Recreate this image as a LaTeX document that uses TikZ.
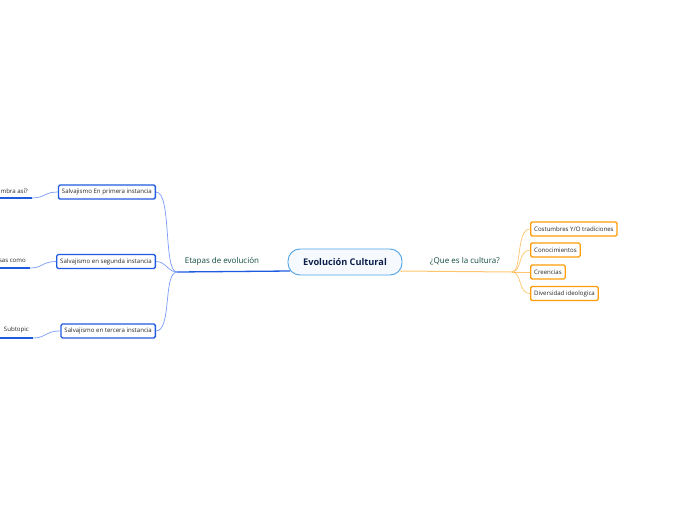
\documentclass[tikz,border=0pt]{standalone}
\usepackage{fontspec}
\setmainfont{Open Sans}
\definecolor{centerline}{HTML}{4DA3E6}
\definecolor{centerfill}{HTML}{F6FAFE}
\definecolor{centertext}{HTML}{0B1F4A}
\definecolor{branchtext}{HTML}{0E4A3C}
\definecolor{blueline}{HTML}{7A9BFA}
\definecolor{bluebox}{HTML}{1F5BE0}
\definecolor{orangeline}{HTML}{FFC46E}
\definecolor{orangebox}{HTML}{FF9C0A}

\begin{document}
\begin{tikzpicture}[x=1pt, y=-1pt,
    central/.style={draw=centerline, fill=centerfill, line width=0.9pt, rounded corners=12pt,
        minimum width=114pt, minimum height=26pt, inner sep=0pt, text=centertext,
        font=\fontsize{9.2}{11}\selectfont\bfseries},
    branch/.style={inner sep=0pt, text=branchtext, font=\fontsize{8}{10}\selectfont},
    bluetopic/.style={draw=bluebox, fill=white, line width=1.3pt, rounded corners=1.5pt,
        minimum height=14pt, inner xsep=3.5pt, inner ysep=0pt, text=black!85,
        font=\fontsize{6.1}{7}\selectfont},
    orangetopic/.style={bluetopic, draw=orangebox},
    leaf/.style={inner sep=0pt, text=black!85, font=\fontsize{6.1}{7}\selectfont},
    bline/.style={draw=blueline, line width=0.7pt},
    oline/.style={draw=orangeline, line width=0.7pt},
    uline/.style={draw=bluebox, line width=1.3pt}]
    \useasboundingbox (0,0) rectangle (696,520);

    \node[central] (evo) at (345,262) {Evolución Cultural};
    \coordinate (evoin) at (290,271);
    \coordinate (evoout) at (400,271);

    \node[branch] (etapas) at (222,261) {Etapas de evolución};
    \coordinate (ej) at (177,272);
    \node[branch] (cultura) at (465,261) {¿Que es la cultura?};
    \coordinate (qj) at (512,272);

    \node[bluetopic, anchor=east] (s1) at (156,192) {Salvajismo En primera instancia};
    \node[bluetopic, anchor=east] (s2) at (156,261.5) {Salvajismo en segunda instancia};
    \node[bluetopic, anchor=east] (s3) at (156,331) {Salvajismo en tercera instancia};

    \node[orangetopic, anchor=west] (c1) at (530,229) {Costumbres Y/O tradiciones};
    \node[orangetopic, anchor=west] (c2) at (530,250) {Conocimientos};
    \node[orangetopic, anchor=west] (c3) at (530,272) {Creencias};
    \node[orangetopic, anchor=west] (c4) at (530,293.5) {Diversidad ideologica};

    \node[leaf, anchor=east] (l1) at (28,191) {mbra así?};
    \node[leaf, anchor=east] (l2) at (26,261) {sas como};
    \node[leaf, anchor=east] (l3) at (29,329.5) {Subtopic};
    \coordinate (u1a) at (-2,198);
    \coordinate (u1b) at (32,198);
    \coordinate (u2a) at (-2,268);
    \coordinate (u2b) at (30,268);
    \coordinate (u3a) at (-2,338);
    \coordinate (u3b) at (33,338);

    \draw[uline] (ej) -- (evoin);
    \draw[oline, line width=1pt] (evoout) -- (qj);

    \draw[bline] (s1.east) .. controls (172,192) and (163,272) .. (ej);
    \draw[bline] (s2.east) .. controls (166,261.5) and (168,272) .. (ej);
    \draw[bline] (s3.east) .. controls (172,331) and (163,272) .. (ej);

    \draw[oline] (qj) .. controls (522,272) and (516,229) .. (c1.west);
    \draw[oline] (qj) .. controls (522,272) and (518,250) .. (c2.west);
    \draw[oline] (qj) -- (c3.west);
    \draw[oline] (qj) .. controls (522,272) and (518,293.5) .. (c4.west);

    \draw[uline] (u1a) -- (u1b);
    \draw[bline] (u1b) .. controls (45,198) and (44,192) .. (s1.west);
    \draw[uline] (u2a) -- (u2b);
    \draw[bline] (u2b) .. controls (43,268) and (42,261.5) .. (s2.west);
    \draw[uline] (u3a) -- (u3b);
    \draw[bline] (u3b) .. controls (46,338) and (45,331) .. (s3.west);
\end{tikzpicture}
\end{document}
